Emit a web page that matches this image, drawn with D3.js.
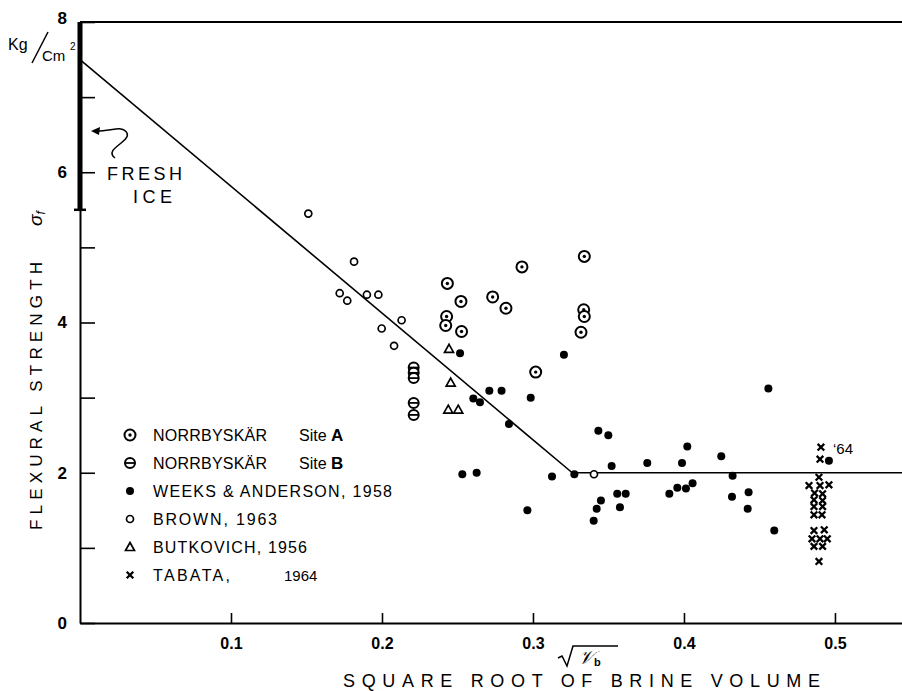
<!DOCTYPE html>
<html>
<head>
<meta charset="utf-8">
<script src="https://cdn.jsdelivr.net/npm/d3@7"></script>
<style>
  body { margin: 0; background: #fff; }
  svg { display: block; font-family: "Liberation Sans", "DejaVu Sans", sans-serif; }
</style>
</head>
<body>
<svg id="chart" width="902" height="691"></svg>
<script>
// data: [sqrt(brine volume), flexural strength kg/cm2]
const siteA = [[0.2433,4.52],[0.2523,4.28],[0.2428,4.08],[0.2422,3.96],[0.2527,3.88],[0.2733,4.34],[0.2821,4.19],
  [0.2927,4.74],[0.334,4.88],[0.3336,4.17],[0.334,4.08],[0.3318,3.87],[0.3018,3.34]];
const siteB = [[0.221,3.40],[0.221,3.33],[0.221,3.26],[0.221,2.93],[0.221,2.77]];
const weeks = [[0.2517,3.59],[0.2605,2.99],[0.2649,2.94],[0.2711,3.09],[0.2792,3.09],[0.2985,3.00],[0.2841,2.65],
  [0.2532,1.98],[0.2627,2.00],[0.2963,1.50],[0.3126,1.95],[0.3274,1.98],[0.3205,3.57],[0.3433,2.56],[0.3499,2.50],
  [0.3521,2.09],[0.3757,2.13],[0.3558,1.72],[0.3614,1.72],[0.345,1.63],[0.3576,1.54],[0.3422,1.52],[0.3402,1.36],
  [0.3903,1.72],[0.4559,3.12],[0.4022,2.35],[0.3987,2.13],[0.4247,2.22],[0.4322,1.96],[0.3956,1.80],[0.4013,1.79],
  [0.4057,1.86],[0.4318,1.68],[0.4428,1.74],[0.4422,1.52],[0.4598,1.23],[0.4960,2.16]];
const brown = [[0.1512,5.45],[0.1815,4.81],[0.172,4.39],[0.177,4.29],[0.190,4.37],[0.1976,4.37],[0.213,4.03],
  [0.1998,3.92],[0.208,3.69],[0.3404,1.98]];
const butkovich = [[0.2444,3.65],[0.2455,3.20],[0.2439,2.84],[0.2505,2.84]];
const tabata = [[0.4907,2.34],[0.4901,2.18],[0.4894,1.94],[0.4828,1.83],[0.4901,1.83],[0.496,1.84],[0.4865,1.73],
  [0.4918,1.72],[0.4861,1.64],[0.4918,1.63],[0.4861,1.55],[0.4918,1.55],[0.4861,1.44],[0.4914,1.44],[0.4861,1.23],
  [0.4929,1.24],[0.4848,1.12],[0.4901,1.12],[0.4949,1.12],[0.4861,1.02],[0.4918,1.02],[0.4894,0.82]];

// fitted curve: sloping line then plateau
const fitLine = [[0,7.5],[0.326,2.0]];
const plateau = [[0.326,2.0],[0.5444,2.0]];

const xTicks = [0.1,0.2,0.3,0.4,0.5];
const yTicks = [0,1,2,3,4,5,6,7,8];
const legendLabels = ["NORRBYSKÄR", "NORRBYSKÄR", "WEEKS & ANDERSON, 1958", "BROWN, 1963", "BUTKOVICH, 1956", "TABATA,"];
const legendTypes = ["siteA","siteB","weeks","brown","butkovich","tabata"];

const svg = d3.select('#chart');
const x = d3.scaleLinear().domain([0, 0.5444]).range([80, 902]);
const y = d3.scaleLinear().domain([0, 8]).range([623, 22]);

// axes
const xAxis = svg.append('g').attr('transform', 'translate(0,623)')
  .call(d3.axisBottom(x).tickValues(xTicks).tickSizeInner(-10).tickSizeOuter(0).tickPadding(15)
    .tickFormat(d3.format('.1f')));
xAxis.select('.domain').attr('stroke-width', 2);
xAxis.selectAll('.tick line').attr('stroke-width', 1.6);
xAxis.selectAll('text').attr('font-size', 16).attr('font-weight', 'bold').attr('fill', '#000');

const yAxis = svg.append('g').attr('transform', 'translate(80,0)')
  .call(d3.axisLeft(y).tickValues(yTicks).tickSizeInner(-15).tickSizeOuter(0).tickPadding(13)
    .tickFormat(d => d % 2 === 0 ? d : ''));
yAxis.select('.domain').attr('stroke-width', 2);
yAxis.selectAll('.tick line').attr('stroke-width', 1.6);
yAxis.selectAll('text').attr('font-size', 17).attr('font-weight', 'bold').attr('fill', '#000');
yAxis.selectAll('.tick').filter(d => d === 8).select('text').attr('dy', '0.1em');

// top border
svg.append('line').attr('x1', x(0)).attr('x2', 902).attr('y1', y(8)).attr('y2', y(8))
  .attr('stroke', '#000').attr('stroke-width', 2);

// fresh ice bar on the axis
svg.append('line').attr('x1', x(0)).attr('x2', x(0)).attr('y1', y(8)).attr('y2', y(5.5))
  .attr('stroke', '#000').attr('stroke-width', 5);
svg.append('line').attr('x1', x(0) - 6).attr('x2', x(0) + 6).attr('y1', y(5.5)).attr('y2', y(5.5))
  .attr('stroke', '#000').attr('stroke-width', 2.5);
svg.append('path').attr('d', 'M115,158 C103,149 131,142 127,133 C123,125 112,131 97,131')
  .attr('fill', 'none').attr('stroke', '#000').attr('stroke-width', 1.5);
svg.append('path').attr('d', 'M91,131 L100,127 L99,135 Z').attr('fill', '#000');
svg.append('text').attr('x', 107).attr('y', 180).attr('font-size', 18)
  .attr('textLength', 75).attr('lengthAdjust', 'spacing').text('FRESH');
svg.append('text').attr('x', 133).attr('y', 203).attr('font-size', 18)
  .attr('textLength', 39).attr('lengthAdjust', 'spacing').text('ICE');

// fitted line
const line = d3.line().x(d => x(d[0])).y(d => y(d[1]));
svg.append('path').datum(fitLine).attr('d', line).attr('fill', 'none').attr('stroke', '#000').attr('stroke-width', 1.6);
svg.append('path').datum(plateau).attr('d', line).attr('fill', 'none').attr('stroke', '#000').attr('stroke-width', 1.6);

// markers
function marker(g, type) {
  if (type === 'siteA') {
    g.append('circle').attr('r', 5.5).attr('fill', '#fff').attr('stroke', '#000').attr('stroke-width', 2);
    g.append('circle').attr('r', 1.7).attr('fill', '#000');
  } else if (type === 'siteB') {
    g.append('circle').attr('r', 5).attr('fill', '#fff').attr('stroke', '#000').attr('stroke-width', 2);
    g.append('line').attr('x1', -5).attr('x2', 5).attr('stroke', '#000').attr('stroke-width', 1.8);
  } else if (type === 'weeks') {
    g.append('circle').attr('r', 4).attr('fill', '#000');
  } else if (type === 'brown') {
    g.append('circle').attr('r', 3.5).attr('fill', '#fff').attr('stroke', '#000').attr('stroke-width', 1.7);
  } else if (type === 'butkovich') {
    g.append('path').attr('d', 'M0,-4.5L4.5,3.5L-4.5,3.5Z').attr('fill', '#fff').attr('stroke', '#000').attr('stroke-width', 1.7);
  } else if (type === 'tabata') {
    g.append('path').attr('d', 'M-3.3,-3.3L3.3,3.3M-3.3,3.3L3.3,-3.3').attr('stroke', '#000').attr('stroke-width', 2.3);
  }
}

const series = [
  { type: 'brown', data: brown },
  { type: 'weeks', data: weeks },
  { type: 'butkovich', data: butkovich },
  { type: 'siteB', data: siteB },
  { type: 'siteA', data: siteA },
  { type: 'tabata', data: tabata }
];
series.forEach(s => {
  svg.append('g').selectAll('g').data(s.data).join('g')
    .attr('transform', d => `translate(${x(d[0])},${y(d[1])})`)
    .each(function() { marker(d3.select(this), s.type); });
});

svg.append('text').attr('x', 833).attr('y', 454).attr('font-size', 15).text('‘64');

// legend
const legend = svg.append('g');
const widths = [114, 114, 239, 124, 154, 77];
legendLabels.forEach((lab, i) => {
  const cy = 435 + i * 28;
  marker(legend.append('g').attr('transform', `translate(130,${cy})`), legendTypes[i]);
  legend.append('text').attr('x', 153).attr('y', cy + 6).attr('font-size', 16)
    .attr('textLength', widths[i]).attr('lengthAdjust', 'spacing').text(lab);
});
legend.append('text').attr('x', 299).attr('y', 441).attr('font-size', 16).text('Site ')
  .append('tspan').attr('font-weight', 'bold').attr('font-size', 17).text('A');
legend.append('text').attr('x', 299).attr('y', 469).attr('font-size', 16).text('Site ')
  .append('tspan').attr('font-weight', 'bold').attr('font-size', 17).text('B');
legend.append('text').attr('x', 284).attr('y', 581).attr('font-size', 15).text('1964');

// axis titles
svg.append('text').attr('x', 343).attr('y', 687).attr('font-size', 18)
  .attr('textLength', 477).attr('lengthAdjust', 'spacing').text('SQUARE  ROOT  OF  BRINE  VOLUME');
const rad = svg.append('g').attr('transform', 'translate(558,664)');
rad.append('path').attr('d', 'M0,-6 L4,-8 L9,2 L15,-18 L60,-18').attr('fill', 'none').attr('stroke', '#000').attr('stroke-width', 1.5);
rad.append('text').attr('x', 20).attr('y', 0).attr('font-size', 19).attr('font-style', 'italic').text('𝒱')
  .append('tspan').attr('font-size', 11).attr('font-style', 'normal').attr('font-weight', 'bold').attr('dy', 2).text('b');

svg.append('text').attr('transform', 'translate(42,530) rotate(-90)').attr('font-size', 17)
  .attr('textLength', 268).attr('lengthAdjust', 'spacing').text('FLEXURAL  STRENGTH');
svg.append('text').attr('transform', 'translate(42,226) rotate(-90)').attr('font-size', 19).attr('font-style', 'italic')
  .text('σ').append('tspan').attr('font-size', 12).attr('dy', 3).text('f');

// units
svg.append('text').attr('x', 8).attr('y', 50).attr('font-size', 16).text('Kg');
svg.append('line').attr('x1', 32).attr('y1', 63).attr('x2', 48).attr('y2', 32).attr('stroke', '#000').attr('stroke-width', 1.5);
svg.append('text').attr('x', 42).attr('y', 61).attr('font-size', 15).text('Cm');
svg.append('text').attr('x', 70).attr('y', 50).attr('font-size', 10).text('2');
</script>
</body>
</html>
